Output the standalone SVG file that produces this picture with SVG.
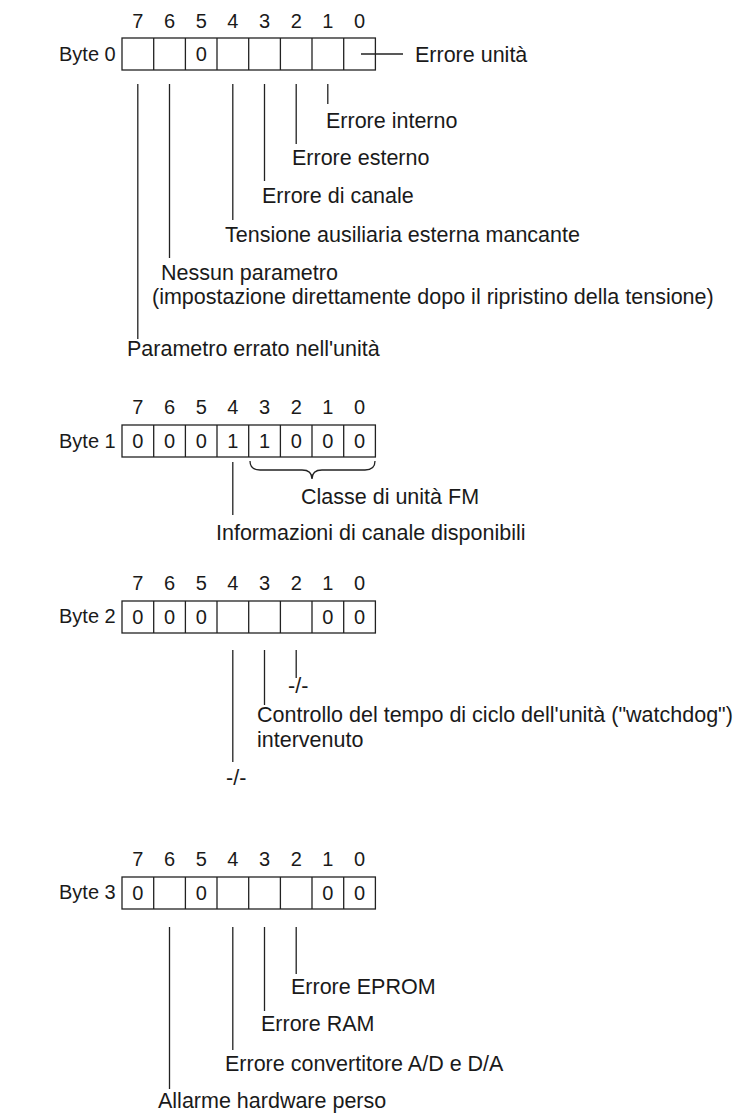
<svg xmlns="http://www.w3.org/2000/svg" width="739" height="1115" viewBox="0 0 739 1115">
<style>
text{font-family:"Liberation Sans",Arial,sans-serif;font-size:21.5px;fill:#1a1a1a}
.c{text-anchor:middle;font-size:20px}
.n{font-size:20px}
.b{fill:#fff;stroke:#222;stroke-width:1.3}
.l{stroke:#222;stroke-width:1.3;fill:none}
</style>
<rect width="739" height="1115" fill="#fff"/>
<defs>
<g id="cells">
<rect class="b" x="122" y="0" width="253.4" height="32"/>
<path class="l" d="M153.7,0v32M185.4,0v32M217,0v32M248.7,0v32M280.4,0v32M312,0v32M343.7,0v32"/>
</g>
<g id="nums">
<text class="c" x="137.8">7</text><text class="c" x="169.5">6</text><text class="c" x="201.2">5</text><text class="c" x="232.8">4</text><text class="c" x="264.5">3</text><text class="c" x="296.2">2</text><text class="c" x="327.8">1</text><text class="c" x="359.5">0</text>
</g>
</defs>

<g id="byte0">
<text class="n" x="59" y="61">Byte 0</text>
<use href="#nums" y="28"/>
<use href="#cells" y="38"/>
<text class="c" x="201.2" y="61">0</text>
</g>
<g id="byte1">
<text class="n" x="59" y="448">Byte 1</text>
<use href="#nums" y="414"/>
<use href="#cells" y="425"/>
<g><text class="c" x="137.8" y="448">0</text><text class="c" x="169.5" y="448">0</text><text class="c" x="201.2" y="448">0</text><text class="c" x="232.8" y="448">1</text><text class="c" x="264.5" y="448">1</text><text class="c" x="296.2" y="448">0</text><text class="c" x="327.8" y="448">0</text><text class="c" x="359.5" y="448">0</text></g>
</g>
<g id="byte2">
<text class="n" x="59" y="623">Byte 2</text>
<use href="#nums" y="590"/>
<use href="#cells" y="601"/>
<g><text class="c" x="137.8" y="624">0</text><text class="c" x="169.5" y="624">0</text><text class="c" x="201.2" y="624">0</text><text class="c" x="327.8" y="624">0</text><text class="c" x="359.5" y="624">0</text></g>
</g>
<g id="byte3">
<text class="n" x="59" y="899">Byte 3</text>
<use href="#nums" y="866"/>
<use href="#cells" y="877"/>
<g><text class="c" x="137.8" y="900">0</text><text class="c" x="201.2" y="900">0</text><text class="c" x="327.8" y="900">0</text><text class="c" x="359.5" y="900">0</text></g>
</g>

<g id="connectors" class="l">
<path d="M361,54H403"/>
<path d="M327.8,84V104M296.2,84V144M264.5,84V181M232.8,84V220M169.5,84V258M137.8,84V339"/>
<path d="M232.8,462V515"/>
<path d="M250,461Q250,470 260,470H302Q312,470 312,479Q312,470 322,470H365Q375,470 375,461"/>
<path d="M296.2,650V678M264.5,650V705M232.8,650V762"/>
<path d="M296.2,927V974M264.5,927V1011M232.8,927V1050M169.5,927V1089"/>
</g>

<g id="labels">
<text x="415" y="62">Errore unità</text>
<text x="326" y="128">Errore interno</text>
<text x="292" y="165">Errore esterno</text>
<text x="262" y="203">Errore di canale</text>
<text x="225" y="242">Tensione ausiliaria esterna mancante</text>
<text x="161" y="280">Nessun parametro</text>
<text x="152" y="304">(impostazione direttamente dopo il ripristino della tensione)</text>
<text x="127" y="356">Parametro errato nell'unità</text>
<text x="301" y="504">Classe di unità FM</text>
<text x="216" y="540">Informazioni di canale disponibili</text>
<text x="288" y="693">-/-</text>
<text x="257" y="722">Controllo del tempo di ciclo dell'unità ("watchdog")</text>
<text x="257" y="747">intervenuto</text>
<text x="226" y="785">-/-</text>
<text x="291" y="994">Errore EPROM</text>
<text x="261" y="1031">Errore RAM</text>
<text x="225" y="1071">Errore convertitore A/D e D/A</text>
<text x="158" y="1108">Allarme hardware perso</text>
</g>
</svg>
